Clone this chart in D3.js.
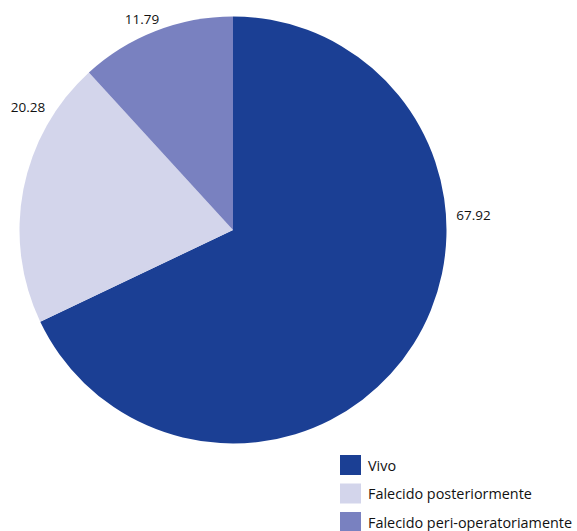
<!DOCTYPE html>
<html>
<head>
<meta charset="utf-8">
<script src="https://cdn.jsdelivr.net/npm/d3@7"></script>
<style>
  html, body { margin: 0; padding: 0; background: #fff; }
  svg { display: block; }
  text { font-family: "Open Sans", "DejaVu Sans", sans-serif; fill: #111; }
</style>
</head>
<body>
<svg id="chart" width="577" height="531"></svg>
<script>
// Outcome shares (percent)
const categories = ["Vivo", "Falecido posteriormente", "Falecido peri-operatoriamente"];
const values = [67.92, 20.28, 11.79];
const valueLabels = ["67.92", "20.28", "11.79"];
const colors = ["#1b3f94", "#d3d5eb", "#7981c0"];

const svg = d3.select("#chart");
const cx = 233, cy = 230, radius = 213.5;

const pie = d3.pie().sort(null).value(d => d)
  .startAngle(0).endAngle(2 * Math.PI);
const arcs = pie(values);
const arc = d3.arc().innerRadius(0).outerRadius(radius);

const g = svg.append("g").attr("transform", `translate(${cx},${cy})`);

g.selectAll("path.slice")
  .data(arcs)
  .join("path")
  .attr("class", "slice")
  .attr("d", arc)
  .attr("fill", (d, i) => colors[i]);

// Value labels sit just outside the rim, nudged along the rim from each slice midpoint
const labelShift = [-0.627, 0.347, -0.036]; // radians, relative to slice midpoint
const labelRadius = [241, 239, 230];
const labelAngle = (d, i) => (d.startAngle + d.endAngle) / 2 + labelShift[i];
g.selectAll("text.val")
  .data(arcs)
  .join("text")
  .attr("class", "val")
  .attr("x", (d, i) => labelRadius[i] * Math.sin(labelAngle(d, i)))
  .attr("y", (d, i) => -labelRadius[i] * Math.cos(labelAngle(d, i)))
  .attr("text-anchor", "middle")
  .attr("dominant-baseline", "central")
  .style("font-size", "13.5px")
  .text((d, i) => valueLabels[i]);

// Legend
const legend = svg.append("g").attr("transform", "translate(340,455)");
const item = legend.selectAll("g.item")
  .data(categories)
  .join("g")
  .attr("class", "item")
  .attr("transform", (d, i) => `translate(0,${i * 28.5})`);
item.append("rect")
  .attr("width", 21).attr("height", 20)
  .attr("fill", (d, i) => colors[i]);
item.append("text")
  .attr("x", 28).attr("y", 10)
  .attr("dominant-baseline", "central")
  .style("font-size", "14.4px")
  .text(d => d);
</script>
</body>
</html>
